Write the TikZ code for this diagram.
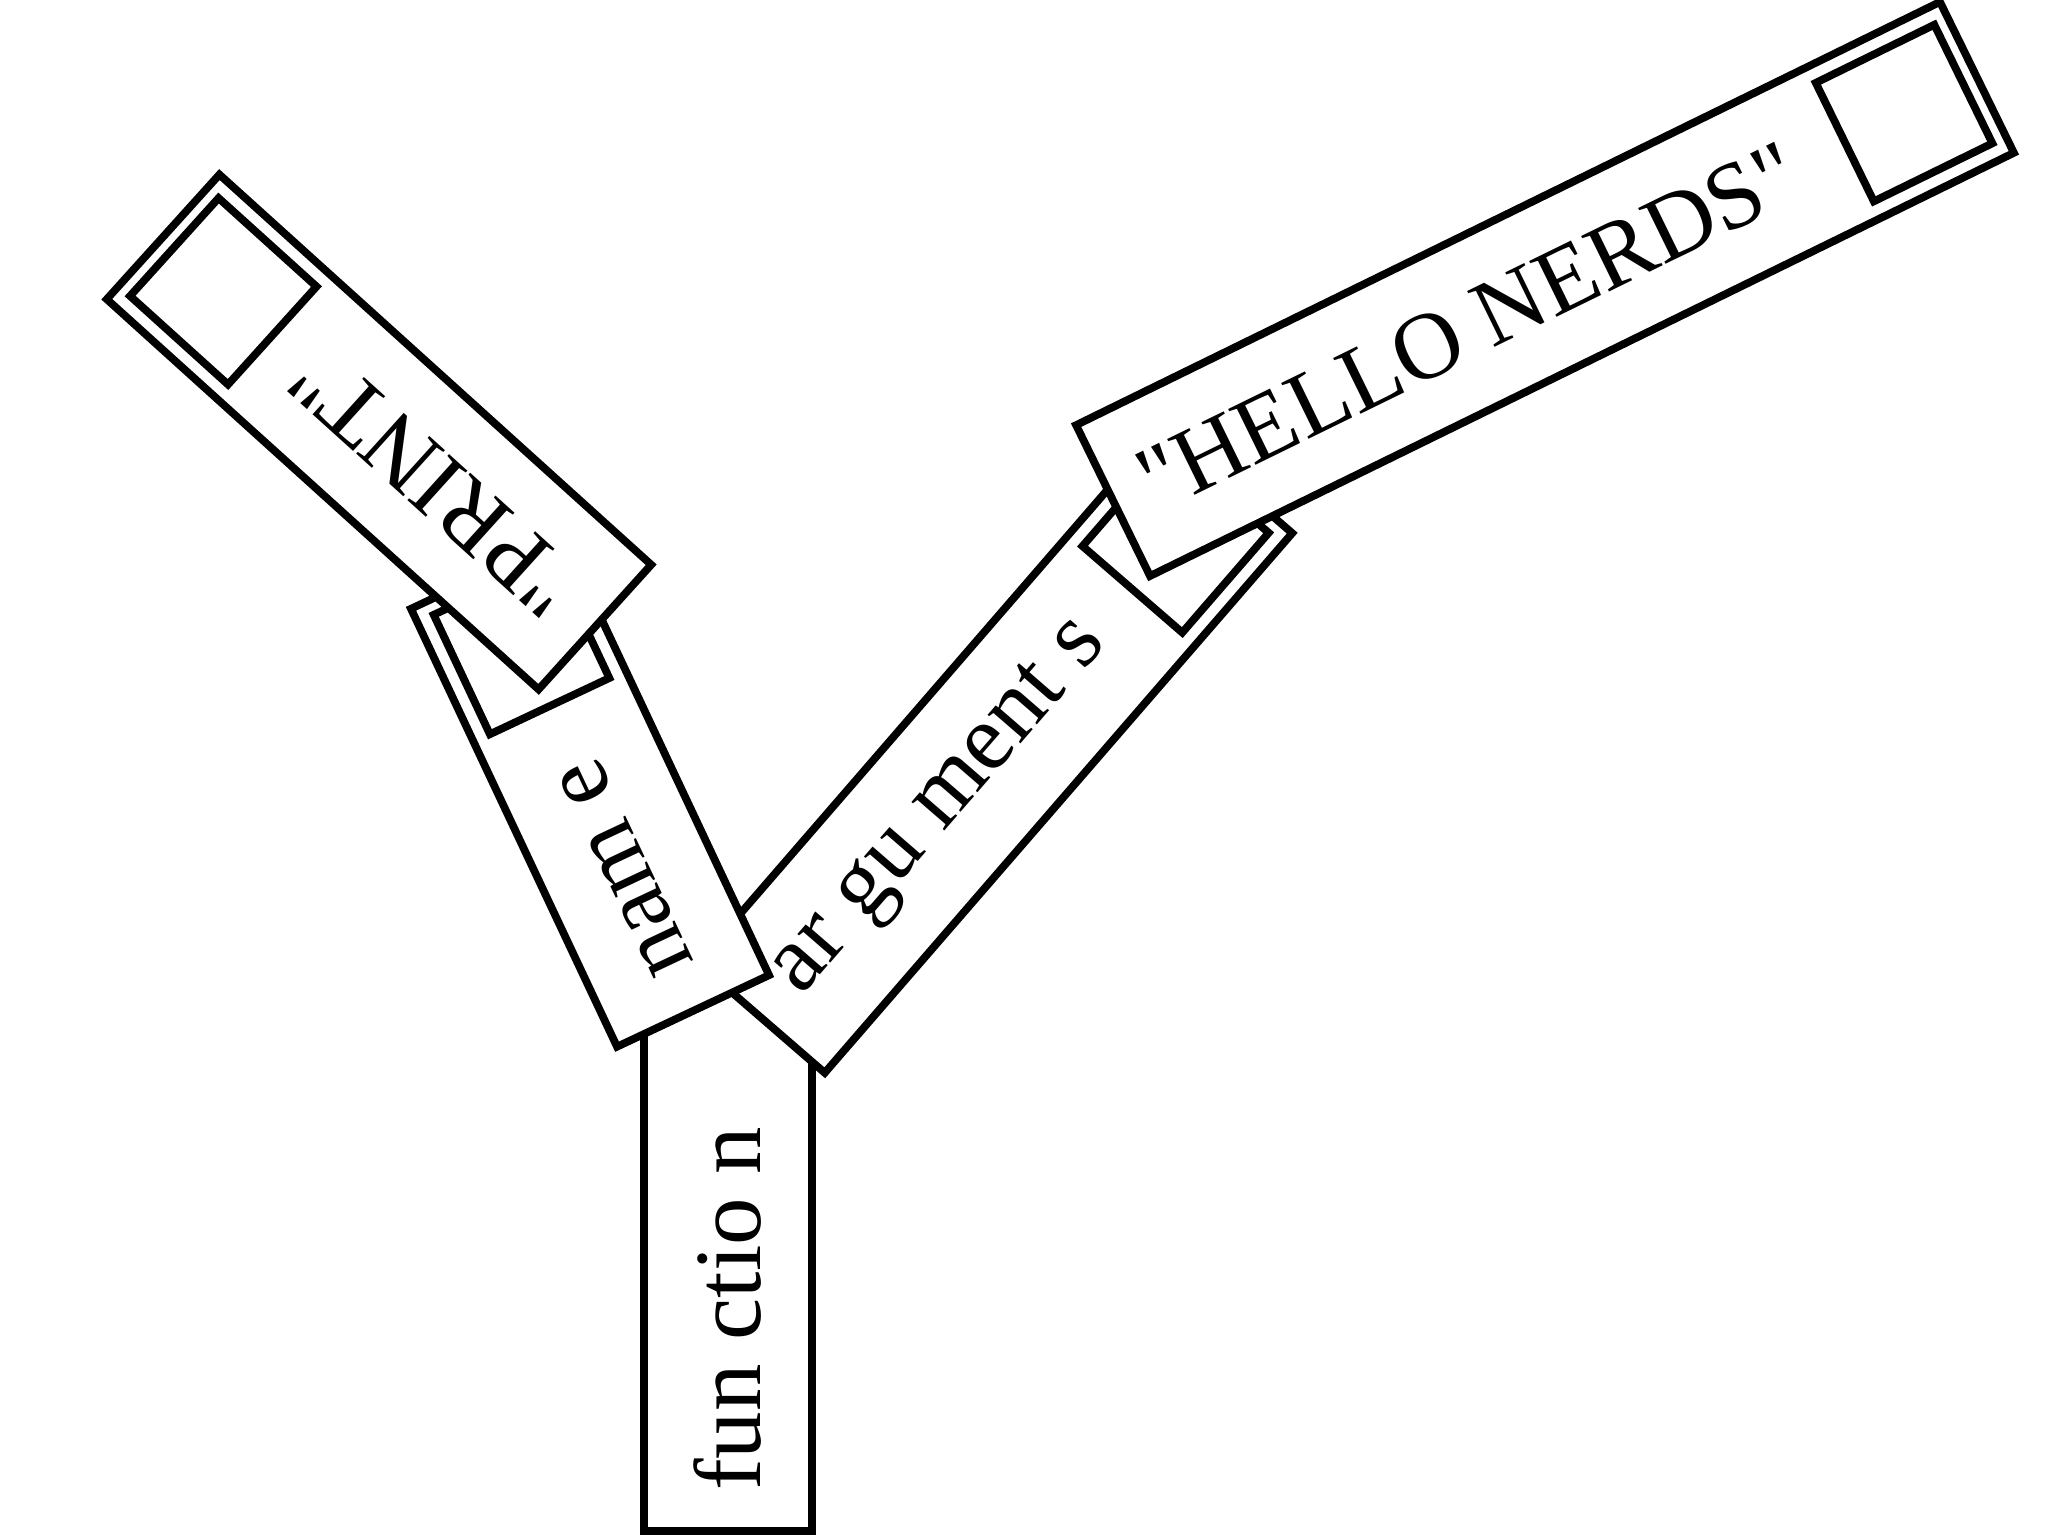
\documentclass[tikz,border=0pt]{standalone}
\usepackage{fontspec}
\setmainfont{Liberation Serif}[Ligatures=TeXOff]
\usetikzlibrary{calc}

\begin{document}
\begin{tikzpicture}[
  block/.style={draw, fill=white, line width=2.2pt, minimum height=1.68cm, inner sep=0pt},
  slot/.style={draw, line width=2.2pt, minimum width=1.32cm, minimum height=1.32cm, inner sep=0pt},
  word/.style={font=\fontsize{27}{32}\selectfont, inner sep=0pt}]
  \useasboundingbox (0,0) rectangle (20.48,15.36);
  % trunk
  \node[block, minimum width=5.81cm, rotate=90] (function) at (7.28,2.955) {};
  \node[word, rotate=90] (functext) at ($(function.west)!2.26cm!(function.east)$) {fun ctio n};
  % right branch
  \node[block, minimum width=7.14cm, rotate=49.1] (arguments) at (9.95,7.88) {};
  \node[slot, rotate=49.1] (argslot) at ($(arguments.east)!0.85cm!(arguments.west)$) {};
  \node[word, rotate=49.1] (argtext) at ($(arguments.west)!2.80cm!(arguments.east)$) {ar gu ment s};
  % left branch
  \node[block, minimum width=4.84cm, rotate=115.2] (name) at (5.90,7.44) {};
  \node[slot, rotate=115.2] (nameslot) at ($(name.east)!0.85cm!(name.west)$) {};
  \node[word, rotate=115.2] (nametext) at ($(name.west)!1.62cm!(name.east)$) {nam e};
  % leaves
  \node[block, minimum width=5.82cm, rotate=137.9] (print) at (3.79,11.04) {};
  \node[slot, rotate=137.9] (printslot) at ($(print.east)!0.85cm!(print.west)$) {};
  \node[word, rotate=137.9] (printtext) at ($(print.west)!2.20cm!(print.east)$) {"PRINT"};
  \node[block, minimum width=9.62cm, rotate=26.1] (hello) at (15.45,12.47) {};
  \node[slot, rotate=26.1] (helloslot) at ($(hello.east)!0.85cm!(hello.west)$) {};
  \node[word, rotate=26.1] (hellotext) at ($(hello.west)!4.00cm!(hello.east)$) {"HELLO NERDS"};
\end{tikzpicture}
\end{document}
